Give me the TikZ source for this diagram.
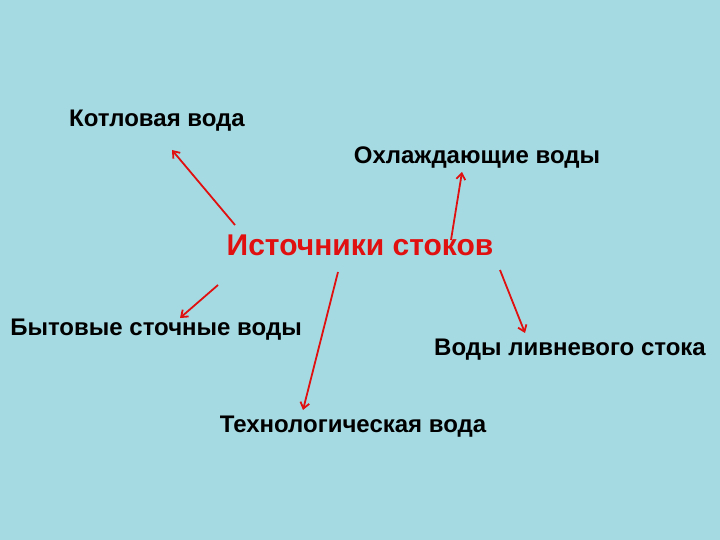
\documentclass[tikz,border=0pt]{standalone}
\usepackage{fontspec}
\setmainfont{Liberation Sans}
\usetikzlibrary{arrows.meta}
\definecolor{bg}{HTML}{A6DAE2}
\definecolor{arr}{HTML}{E01010}
\begin{document}
\begin{tikzpicture}[x=1pt,y=-1pt,
  lbl/.style={font=\bfseries\fontsize{24}{28}\selectfont,text=black,inner sep=0pt},
  con/.style={draw=arr,line width=1.8pt,-{Straight Barb[length=6pt,width=9pt]}}]
\fill[bg] (0,0) rectangle (720,540);
\useasboundingbox (0,0) rectangle (720,540);
\node[lbl] (kot) at (157,121) {Котловая вода};
\node[lbl] (ohl) at (477,158) {Охлаждающие воды};
\node[lbl,font=\bfseries\fontsize{30}{34}\selectfont,text=arr] (src) at (360,245) {Источники стоков};
\node[lbl] (byt) at (156,330) {Бытовые сточные воды};
\node[lbl] (liv) at (570,350) {Воды ливневого стока};
\node[lbl] (teh) at (353,427) {Технологическая вода};
\coordinate (s1) at (235,225);
\coordinate (s2) at (451,240);
\coordinate (s3) at (218,285);
\coordinate (s4) at (338,272);
\coordinate (s5) at (500,270);
\coordinate (e1) at (172,150);
\coordinate (e2) at (462,172);
\coordinate (e3) at (180,318);
\coordinate (e4) at (303,410);
\coordinate (e5) at (525,333);
\draw[con] (s1) -- (e1);
\draw[con] (s2) -- (e2);
\draw[con] (s3) -- (e3);
\draw[con] (s4) -- (e4);
\draw[con] (s5) -- (e5);
\end{tikzpicture}
\end{document}
